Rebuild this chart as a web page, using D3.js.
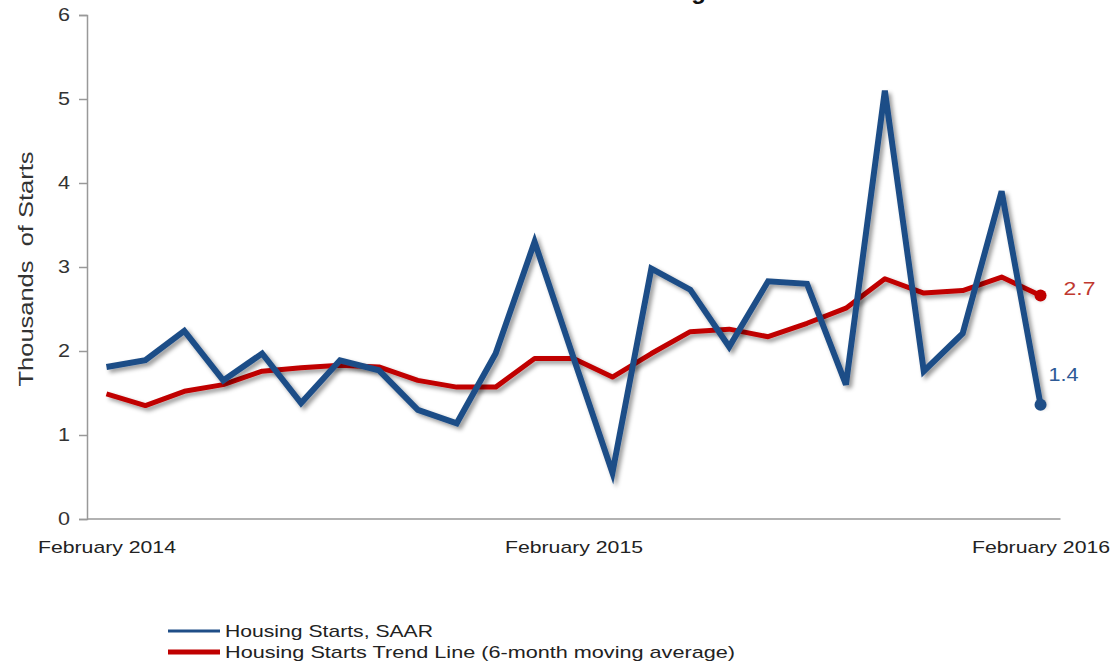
<!DOCTYPE html>
<html>
<head>
<meta charset="utf-8">
<script src="https://cdn.jsdelivr.net/npm/d3@7"></script>
<style>
  body { margin: 0; background: #fff; }
  text { font-family: "Liberation Sans", Arial, sans-serif; }
</style>
</head>
<body>
<div class="chart"></div>
<script>
// Housing starts vs 6-month trend line

// data
var months = ["Feb 2014", "Mar 2014", "Apr 2014", "May 2014", "Jun 2014", "Jul 2014",
  "Aug 2014", "Sep 2014", "Oct 2014", "Nov 2014", "Dec 2014", "Jan 2015",
  "Feb 2015", "Mar 2015", "Apr 2015", "May 2015", "Jun 2015", "Jul 2015",
  "Aug 2015", "Sep 2015", "Oct 2015", "Nov 2015", "Dec 2015", "Jan 2016", "Feb 2016"];
var starts = [1.81, 1.89, 2.24, 1.65, 1.97, 1.38, 1.89, 1.77, 1.30, 1.14, 1.97, 3.30,
  1.92, 0.55, 2.98, 2.73, 2.05, 2.83, 2.80, 1.60, 5.10, 1.76, 2.21, 3.90, 1.36];
var trend = [1.49, 1.35, 1.52, 1.60, 1.76, 1.80, 1.83, 1.81, 1.65, 1.57, 1.57, 1.91,
  1.91, 1.69, 1.97, 2.23, 2.26, 2.17, 2.33, 2.51, 2.86, 2.69, 2.72, 2.88, 2.66];
var xTickLabels = {"Feb 2014": "February 2014", "Feb 2015": "February 2015", "Feb 2016": "February 2016"};
var yTicks = [0, 1, 2, 3, 4, 5, 6];
var seriesNames = ["Housing Starts, SAAR", "Housing Starts Trend Line (6-month moving average)"];

var svgWidth = 1116;
var svgHeight = 666;

var margin = {top: 15, right: 56, bottom: 147, left: 87};
var width = svgWidth - margin.left - margin.right;
var height = svgHeight - margin.top - margin.bottom;

var blue = "#1f4e87";
var red = "#c00000";

var svg = d3.select(".chart")
  .append("svg")
  .attr("width", svgWidth)
  .attr("height", svgHeight);

// the original text is wider than the font we have, so stretch it
function stretch(sel, len) {
  sel.attr("textLength", len).attr("lengthAdjust", "spacingAndGlyphs");
}

// drop shadow like the original office chart
var defs = svg.append("defs");
defs.append("filter")
  .attr("id", "shadow")
  .attr("x", "-10%").attr("y", "-10%")
  .attr("width", "120%").attr("height", "120%")
  .append("feDropShadow")
  .attr("dx", 3)
  .attr("dy", 3)
  .attr("stdDeviation", 2)
  .attr("flood-color", "#000")
  .attr("flood-opacity", 0.4);

// title, almost all of it is cut off above the picture
svg.append("text")
  .attr("x", 706)
  .attr("y", -1)
  .attr("text-anchor", "end")
  .style("font-size", "24px")
  .style("font-weight", "bold")
  .attr("fill", "#111")
  .text("Housing");

var chartGroup = svg.append("g")
  .attr("transform", `translate(${margin.left}, ${margin.top})`);

var xScale = d3.scalePoint()
  .domain(months)
  .range([0, width])
  .padding(0.5);

var yScale = d3.scaleLinear()
  .domain([0, 6])
  .range([height, 0]);

// y axis
var leftAxis = d3.axisLeft(yScale)
  .tickValues(yTicks)
  .tickSize(8)
  .tickPadding(9)
  .tickFormat(d3.format("d"));

var yAxis = chartGroup.append("g").call(leftAxis);
yAxis.select(".domain").attr("stroke", "#999").attr("stroke-width", 1.5);
yAxis.selectAll(".tick line").attr("stroke", "#999").attr("stroke-width", 1.5);
yAxis.selectAll(".tick text")
  .attr("fill", "#333")
  .style("font-size", "18px")
  .style("font-family", "'Liberation Sans', Arial, sans-serif")
  .call(stretch, 12);

// x axis, only three labels
var bottomAxis = d3.axisBottom(xScale)
  .tickValues(Object.keys(xTickLabels))
  .tickSize(0)
  .tickPadding(22)
  .tickFormat(d => xTickLabels[d]);

var xAxis = chartGroup.append("g")
  .attr("transform", `translate(0, ${height})`)
  .call(bottomAxis);
xAxis.select(".domain").attr("stroke", "#999").attr("stroke-width", 1.5)
  .attr("d", `M0,0H${width + 0.5}`);
xAxis.selectAll(".tick text")
  .attr("fill", "#222")
  .style("font-size", "17px")
  .style("font-family", "'Liberation Sans', Arial, sans-serif")
  .call(stretch, 138);

// y axis label
chartGroup.append("text")
  .attr("transform", "rotate(-90)")
  .attr("x", 0 - (height / 2 + 2))
  .attr("y", 0 - margin.left + 33)
  .attr("text-anchor", "middle")
  .attr("fill", "#333")
  .style("font-size", "21px")
  .style("white-space", "pre")
  .attr("xml:space", "preserve")
  .text("Thousands  of Starts")
  .call(stretch, 235);

var line = d3.line()
  .x((d, i) => xScale(months[i]))
  .y(d => yScale(d));

var lastIdx = months.length - 1;

// trend line (drawn first, under the blue one)
chartGroup.append("path")
  .datum(trend)
  .attr("d", line)
  .attr("fill", "none")
  .attr("stroke", red)
  .attr("stroke-width", 5)
  .attr("stroke-linejoin", "round")
  .attr("filter", "url(#shadow)");

chartGroup.append("path")
  .datum(starts)
  .attr("d", line)
  .attr("fill", "none")
  .attr("stroke", blue)
  .attr("stroke-width", 6)
  .attr("stroke-linejoin", "miter")
  .attr("filter", "url(#shadow)");

// end points and value labels
chartGroup.append("circle")
  .attr("cx", xScale(months[lastIdx]))
  .attr("cy", yScale(trend[lastIdx]))
  .attr("r", 6)
  .attr("fill", red);

chartGroup.append("circle")
  .attr("cx", xScale(months[lastIdx]))
  .attr("cy", yScale(starts[lastIdx]))
  .attr("r", 6)
  .attr("fill", blue);

chartGroup.append("text")
  .attr("x", xScale(months[lastIdx]) + 23)
  .attr("y", yScale(trend[lastIdx]) - 1)
  .attr("fill", "#c0392f")
  .style("font-size", "19px")
  .text(d3.format(".1f")(trend[lastIdx]))
  .call(stretch, 32);

chartGroup.append("text")
  .attr("x", xScale(months[lastIdx]) + 8)
  .attr("y", yScale(starts[lastIdx]) - 24)
  .attr("fill", "#2e5a96")
  .style("font-size", "19px")
  .text(d3.format(".1f")(starts[lastIdx] + 0.04))
  .call(stretch, 30);

// legend
var legend = svg.append("g")
  .attr("transform", "translate(168, 631)");

var legendColors = [blue, red];
var legendLengths = [208, 510];
seriesNames.forEach(function (name, i) {
  legend.append("line")
    .attr("x1", 0)
    .attr("x2", 52)
    .attr("y1", i * 21)
    .attr("y2", i * 21)
    .attr("stroke", legendColors[i])
    .attr("stroke-width", i == 0 ? 3 : 5);
  legend.append("text")
    .attr("x", 57)
    .attr("y", i * 21 + 6)
    .attr("fill", "#222")
    .style("font-size", "17px")
    .text(name)
    .call(stretch, legendLengths[i]);
});
</script>
</body>
</html>
